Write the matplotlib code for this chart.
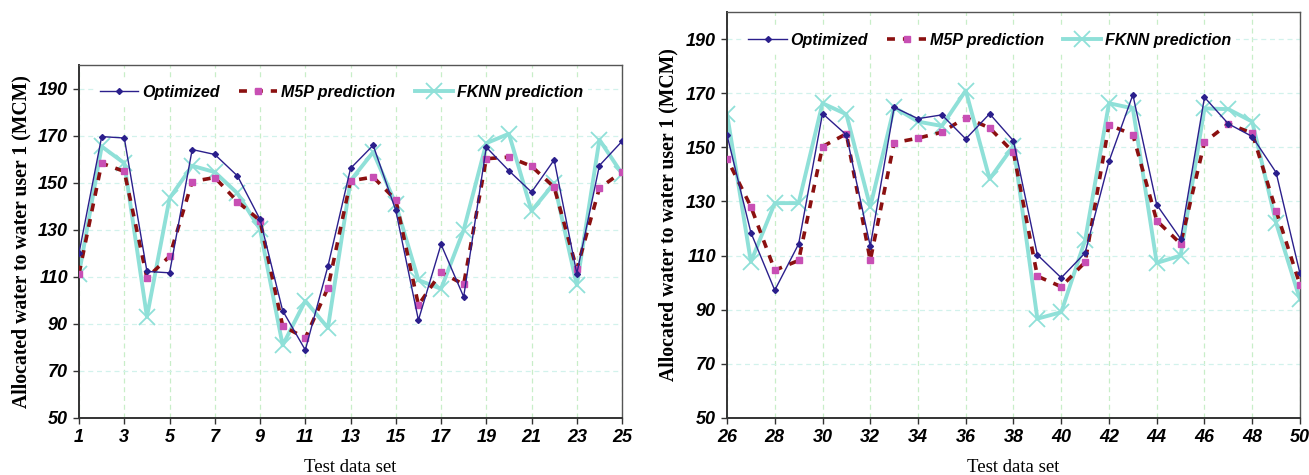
import matplotlib.pyplot as plt
from matplotlib.ticker import FixedLocator

# test data set index 1..50
test_set = list(range(1, 51))

optimized = [120.2, 169.6, 169.0, 112.3, 111.7, 164.1, 162.0, 152.9, 134.4, 95.6,
             78.9, 114.5, 156.1, 165.9, 138.2, 91.6, 123.8, 101.5, 165.1, 155.1,
             146.0, 159.7, 111.4, 157.3, 167.6,
             154.5, 118.5, 97.2, 114.3, 162.5, 154.6, 113.5, 164.8, 160.6, 162.0,
             153.1, 162.4, 152.4, 110.3, 101.8, 111.0, 144.8, 169.4, 128.8, 116.2,
             168.5, 158.7, 154.0, 140.7, 103.4]

m5p = [111.4, 158.3, 154.8, 109.6, 118.7, 150.5, 152.2, 142.0, 133.9, 89.1,
       84.0, 105.3, 150.8, 152.4, 142.7, 98.0, 111.9, 106.8, 160.2, 160.9,
       157.0, 148.1, 113.2, 147.7, 154.6,
       145.8, 128.1, 104.6, 108.2, 150.3, 155.0, 108.2, 151.7, 153.4, 155.6,
       161.0, 157.2, 148.1, 102.4, 98.5, 107.6, 158.3, 154.7, 122.9, 114.4,
       151.9, 158.7, 155.2, 126.6, 99.2]

fknn = [111.4, 165.4, 158.3, 93.0, 143.4, 157.2, 154.5, 145.5, 130.2, 80.9,
        99.8, 88.3, 150.9, 163.0, 140.9, 108.6, 104.9, 129.9, 166.8, 170.8,
        138.0, 149.8, 106.5, 168.3, 153.8,
        162.4, 107.7, 129.4, 129.4, 166.3, 162.2, 128.0, 164.8, 159.5, 157.9,
        171.0, 138.3, 150.6, 86.7, 89.1, 115.7, 166.3, 164.4, 107.3, 110.0,
        164.4, 164.1, 159.5, 122.1, 93.8]

y_ticks = [50, 70, 90, 110, 130, 150, 170, 190]
left_xticks = list(range(1, 26, 2))
right_xticks = list(range(26, 51, 2))

tick_font = {'family': 'Liberation Sans', 'weight': 'bold', 'style': 'italic', 'size': 13}

fig = plt.figure(figsize=(13.09, 4.75), dpi=100)
ax1 = fig.add_axes([0.0604, 0.12, 0.4148, 0.743])
ax2 = fig.add_axes([0.5554, 0.12, 0.4377, 0.8547])


def draw_panel(ax, xlim, xticks, leg_y):
    ax.plot(test_set, optimized, color='#2b1f8c', lw=1.0, marker='D', ms=3,
            label='Optimized', zorder=4)
    ax.plot(test_set, m5p, color='#8b1010', lw=2.6, ls=(0, (2.2, 2.2)),
            marker='s', ms=5, mfc='#c84fb4', mec='#c84fb4',
            label='M5P prediction', zorder=3)
    ax.plot(test_set, fknn, color='#8fe0d8', lw=2.8, marker='x', ms=11, mew=1.3,
            label='FKNN prediction', zorder=2)

    ax.set_xlim(*xlim)
    ax.set_ylim(50, 200)
    ax.xaxis.set_major_locator(FixedLocator(xticks))
    ax.yaxis.set_major_locator(FixedLocator(y_ticks))

    # dashed grid: greenish verticals, pale cyan horizontals
    ax.xaxis.grid(True, color='#c8eec8', ls=(0, (4, 3)), lw=0.9)
    ax.yaxis.grid(True, color='#d2f2ec', ls=(0, (4, 3)), lw=0.9)
    ax.set_axisbelow(True)

    for side in ['left', 'bottom']:
        ax.spines[side].set_color('#333333')
        ax.spines[side].set_linewidth(1.4)
    for side in ['top', 'right']:
        ax.spines[side].set_color('#555555')
        ax.spines[side].set_linewidth(1.0)

    ax.tick_params(direction='out', length=4, width=1, color='#333333', pad=4)
    for lbl in ax.get_xticklabels() + ax.get_yticklabels():
        lbl.set_fontproperties(tick_font)

    ax.set_xlabel('Test data set', family='Liberation Serif', fontsize=13.5,
                  labelpad=9)
    ax.set_ylabel('Allocated water to water user 1 (MCM)',
                  family='Liberation Serif', weight='bold', fontsize=14.2,
                  labelpad=5)

    leg = ax.legend(loc='upper left', bbox_to_anchor=(0.015, leg_y), ncol=3,
                    handlelength=2.4, columnspacing=1.2, handletextpad=0.25,
                    frameon=True, fancybox=False, borderpad=0.3,
                    prop={'family': 'Liberation Sans', 'weight': 'bold',
                          'style': 'italic', 'size': 11.5})
    leg.get_frame().set_facecolor('white')
    leg.get_frame().set_edgecolor('none')
    leg.get_frame().set_alpha(1)


draw_panel(ax1, (1, 25), left_xticks, 0.98)
draw_panel(ax2, (26, 50), right_xticks, 0.98)

fig.savefig('out.png', dpi=100)
